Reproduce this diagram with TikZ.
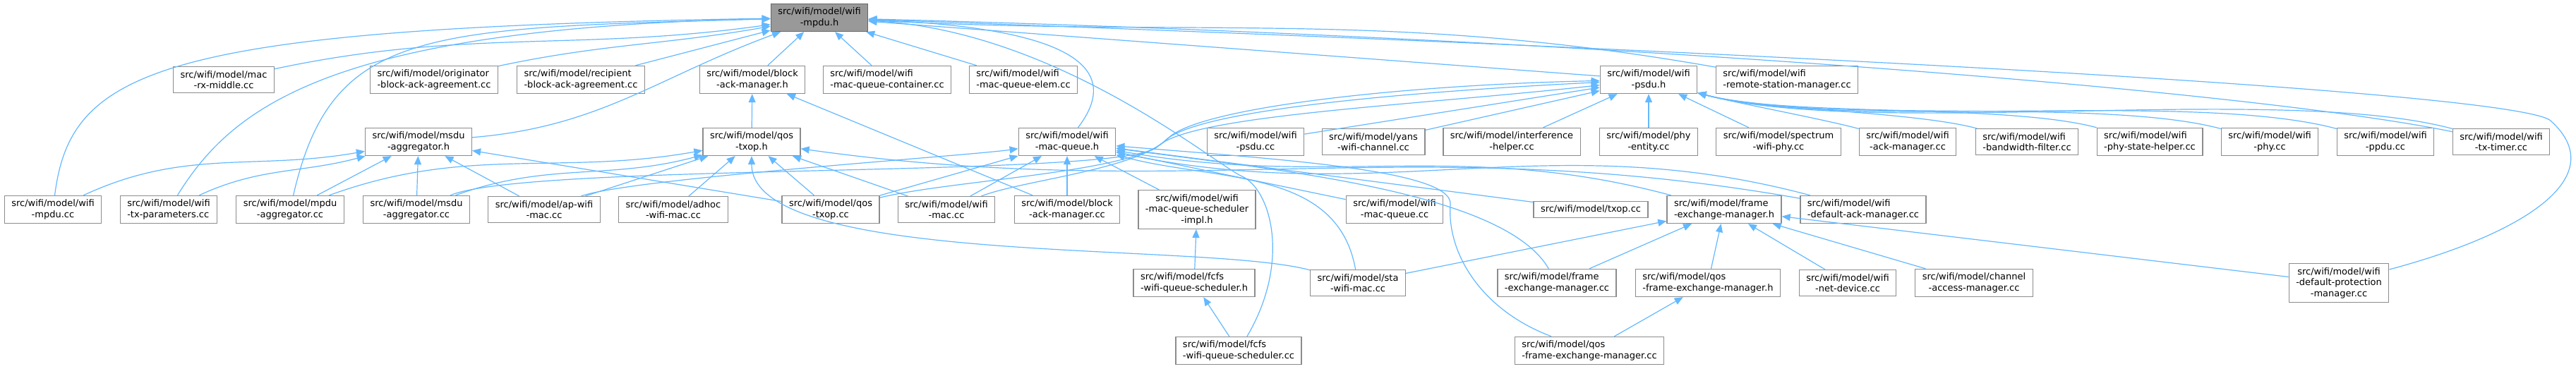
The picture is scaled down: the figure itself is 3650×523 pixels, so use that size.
\documentclass[tikz,border=0pt]{standalone}
\usepackage{fontspec}
\setmainfont{DejaVu Sans}
\usetikzlibrary{arrows.meta}
\definecolor{edgeblue}{HTML}{63B8FF}
\definecolor{boxline}{HTML}{8C8C8C}
\definecolor{rootfill}{HTML}{999999}
\definecolor{rootline}{HTML}{666666}

\begin{document}
\begin{tikzpicture}[x=.5pt,y=-.5pt,>={Triangle[length=6pt,width=5pt]},
  filebox/.style={draw=boxline,line width=.65pt,fill=white,align=center,inner xsep=5pt,inner ysep=2.75pt,font=\fontsize{6.5}{7.75}\selectfont},
  rootbox/.style={filebox,draw=rootline,fill=rootfill},
  incl/.style={->,draw=edgeblue,line width=.6pt}]
\useasboundingbox (0,0) rectangle (3650,523);
% row 1 and 2
\node (0) [rootbox] at (1161,25) {src/wifi/model/wifi\\-mpdu.h};
\node (1) [filebox] at (317,113) {src/wifi/model/mac\\-rx-middle.cc};
\node (2) [filebox,align=left] at (615,113) {src/wifi/model/originator\\-block-ack-agreement.cc};
\node (3) [filebox,align=left] at (823,113) {src/wifi/model/recipient\\-block-ack-agreement.cc};
\node (4) [filebox] at (1066,113) {src/wifi/model/block\\-ack-manager.h};
\node (5) [filebox,align=left] at (1257,113) {src/wifi/model/wifi\\-mac-queue-container.cc};
\node (6) [filebox,align=left] at (1450,113) {src/wifi/model/wifi\\-mac-queue-elem.cc};
\node (7) [filebox] at (2336,113) {src/wifi/model/wifi\\-psdu.h};
\node (8) [filebox,align=left] at (2532,113) {src/wifi/model/wifi\\-remote-station-manager.cc};
% row 3
\node (9) [filebox] at (593,201) {src/wifi/model/msdu\\-aggregator.h};
\node (10) [filebox] at (1065,201) {src/wifi/model/qos\\-txop.h};
\node (11) [filebox] at (1512,201) {src/wifi/model/wifi\\-mac-queue.h};
\node (12) [filebox] at (1779,201) {src/wifi/model/wifi\\-psdu.cc};
\node (13) [filebox] at (1946,201) {src/wifi/model/yans\\-wifi-channel.cc};
\node (14) [filebox] at (2142,201) {src/wifi/model/interference\\-helper.cc};
\node (15) [filebox] at (2336,201) {src/wifi/model/phy\\-entity.cc};
\node (16) [filebox] at (2520,201) {src/wifi/model/spectrum\\-wifi-phy.cc};
\node (17) [filebox] at (2703,201) {src/wifi/model/wifi\\-ack-manager.cc};
\node (18) [filebox,align=left] at (2872,201) {src/wifi/model/wifi\\-bandwidth-filter.cc};
\node (19) [filebox,align=left] at (3046,201) {src/wifi/model/wifi\\-phy-state-helper.cc};
\node (20) [filebox] at (3216,201) {src/wifi/model/wifi\\-phy.cc};
\node (21) [filebox] at (3380,201) {src/wifi/model/wifi\\-ppdu.cc};
\node (22) [filebox] at (3544,201) {src/wifi/model/wifi\\-tx-timer.cc};
% row 4
\node (23) [filebox] at (75,297) {src/wifi/model/wifi\\-mpdu.cc};
\node (24) [filebox,align=left] at (239,297) {src/wifi/model/wifi\\-tx-parameters.cc};
\node (25) [filebox] at (411,297) {src/wifi/model/mpdu\\-aggregator.cc};
\node (26) [filebox] at (590,297) {src/wifi/model/msdu\\-aggregator.cc};
\node (27) [filebox] at (771,297) {src/wifi/model/ap-wifi\\-mac.cc};
\node (28) [filebox] at (954,297) {src/wifi/model/adhoc\\-wifi-mac.cc};
\node (29) [filebox] at (1177,297) {src/wifi/model/qos\\-txop.cc};
\node (30) [filebox] at (1341,297) {src/wifi/model/wifi\\-mac.cc};
\node (31) [filebox] at (1512,297) {src/wifi/model/block\\-ack-manager.cc};
\node (32) [filebox] at (1696,297) {src/wifi/model/wifi\\-mac-queue-scheduler\\-impl.h};
\node (33) [filebox] at (1976,297) {src/wifi/model/wifi\\-mac-queue.cc};
\node (34) [filebox] at (2254,297) {src/wifi/model/txop.cc};
\node (35) [filebox,align=left] at (2443,297) {src/wifi/model/frame\\-exchange-manager.h};
\node (36) [filebox,align=left] at (2640,297) {src/wifi/model/wifi\\-default-ack-manager.cc};
% row 5 and 6
\node (37) [filebox,align=left] at (1692,401) {src/wifi/model/fcfs\\-wifi-queue-scheduler.h};
\node (38) [filebox] at (1924,401) {src/wifi/model/sta\\-wifi-mac.cc};
\node (39) [filebox,align=left] at (2206,401) {src/wifi/model/frame\\-exchange-manager.cc};
\node (40) [filebox,align=left] at (2420,401) {src/wifi/model/qos\\-frame-exchange-manager.h};
\node (41) [filebox] at (2618,401) {src/wifi/model/wifi\\-net-device.cc};
\node (42) [filebox] at (2797,401) {src/wifi/model/channel\\-access-manager.cc};
\node (43) [filebox] at (3314,401) {src/wifi/model/wifi\\-default-protection\\-manager.cc};
\node (44) [filebox,align=left] at (1755,497) {src/wifi/model/fcfs\\-wifi-queue-scheduler.cc};
\node (45) [filebox,align=left] at (2252,497) {src/wifi/model/qos\\-frame-exchange-manager.cc};
% into wifi-mpdu.h
\draw[incl] (1)to[out=12,in=188] (0);
\draw[incl] (2)to[out=12,in=190] (0);
\draw[incl] (3)to (0);
\draw[incl] (4)to (0);
\draw[incl] (5)to (0);
\draw[incl] (6)to (0);
\draw[incl] (7)to (0);
\draw[incl] (8)to[out=170,in=-3] (0);
\draw[incl] (9) .. controls (850,180) and (930,110) .. (0);
\draw[incl] (11) .. controls (1620,60) and (1400,35) .. (0);
\draw[incl] (22) .. controls (3200,130) and (2300,55) .. (0);
\draw[incl] (23) .. controls (100,100) and (220,40) .. (0);
\draw[incl] (24) .. controls (330,150) and (470,40) .. (0);
\draw[incl] (25) .. controls (470,40) and (600,40) .. (0);
\draw[incl] (43) .. controls (3580,330) and (3700,250) .. (3615,172) .. controls (3585,135) and (2700,80) .. (0);
\draw[incl] (44) .. controls (1830,370) and (1800,268) .. (1760,250) .. controls (1720,232) and (1500,45) .. (0);
% into msdu-aggregator.h
\draw[incl] (23)to[out=25,in=190] (9);
\draw[incl] (24)to[out=25,in=195] (9);
\draw[incl] (25)to (9);
\draw[incl] (26)to (9);
\draw[incl] (27)to (9);
\draw[incl] (29)to (9);
% into block-ack-manager.h
\draw[incl] (10)to (4);
\draw[incl] (31)to (4);
% into qos-txop.h
\draw[incl] (25)to[out=20,in=190] (10);
\draw[incl] (26)to[out=20,in=195] (10);
\draw[incl] (27)to (10);
\draw[incl] (28)to (10);
\draw[incl] (29)to (10);
\draw[incl] (30)to (10);
\draw[incl] (36)to[out=170,in=-8] (10);
\draw[incl] (38)to[out=165,in=-90,looseness=.5] (10);
% into wifi-mac-queue.h
\draw[incl] (27)to[out=20,in=188,looseness=.3] (11);
\draw[incl] (29)to (11);
\draw[incl] (30)to (11);
\draw[incl] (31)to (11);
\draw[incl] (32)to (11);
\draw[incl] (33)to (11);
\draw[incl] (34)to (11);
\draw[incl] (35)to[out=165,in=-10] (11);
\draw[incl] (36)to[out=165,in=-12] (11);
\draw[incl] (38)to[out=100,in=-15] (11);
\draw[incl] (39) .. controls (2130,270) and (1800,240) .. (11);
\draw[incl] (45) .. controls (2100,440) and (2050,360) .. (2055,290) .. controls (2060,240) and (1800,225) .. (11);
% into wifi-psdu.h
\draw[incl] (12)to (7);
\draw[incl] (13)to (7);
\draw[incl] (14)to (7);
\draw[incl] (15)to (7);
\draw[incl] (16)to (7);
\draw[incl] (17)to[out=165,in=-15,looseness=.6] (7);
\draw[incl] (18)to[out=165,in=-15,looseness=.6] (7);
\draw[incl] (19)to[out=165,in=-15,looseness=.6] (7);
\draw[incl] (20)to[out=165,in=-15,looseness=.6] (7);
\draw[incl] (21)to[out=165,in=-15,looseness=.6] (7);
\draw[incl] (22)to[out=165,in=-15,looseness=.6] (7);
\draw[incl] (26) .. controls (750,230) and (1595,253) .. (1640,208) .. controls (1685,163) and (2000,150) .. (7);
\draw[incl] (29) .. controls (1350,255) and (1605,245) .. (1650,200) .. controls (1695,155) and (2000,130) .. (7);
\draw[incl] (30) .. controls (1450,255) and (1610,241) .. (1655,196) .. controls (1700,151) and (2000,120) .. (7);
% into frame-exchange-manager.h
\draw[incl] (38)to (35);
\draw[incl] (39)to (35);
\draw[incl] (40)to (35);
\draw[incl] (41)to (35);
\draw[incl] (42)to (35);
\draw[incl] (43)to (35);
% schedulers
\draw[incl] (37)to (32);
\draw[incl] (44)to (37);
\draw[incl] (45)to (40);
\end{tikzpicture}
\end{document}
